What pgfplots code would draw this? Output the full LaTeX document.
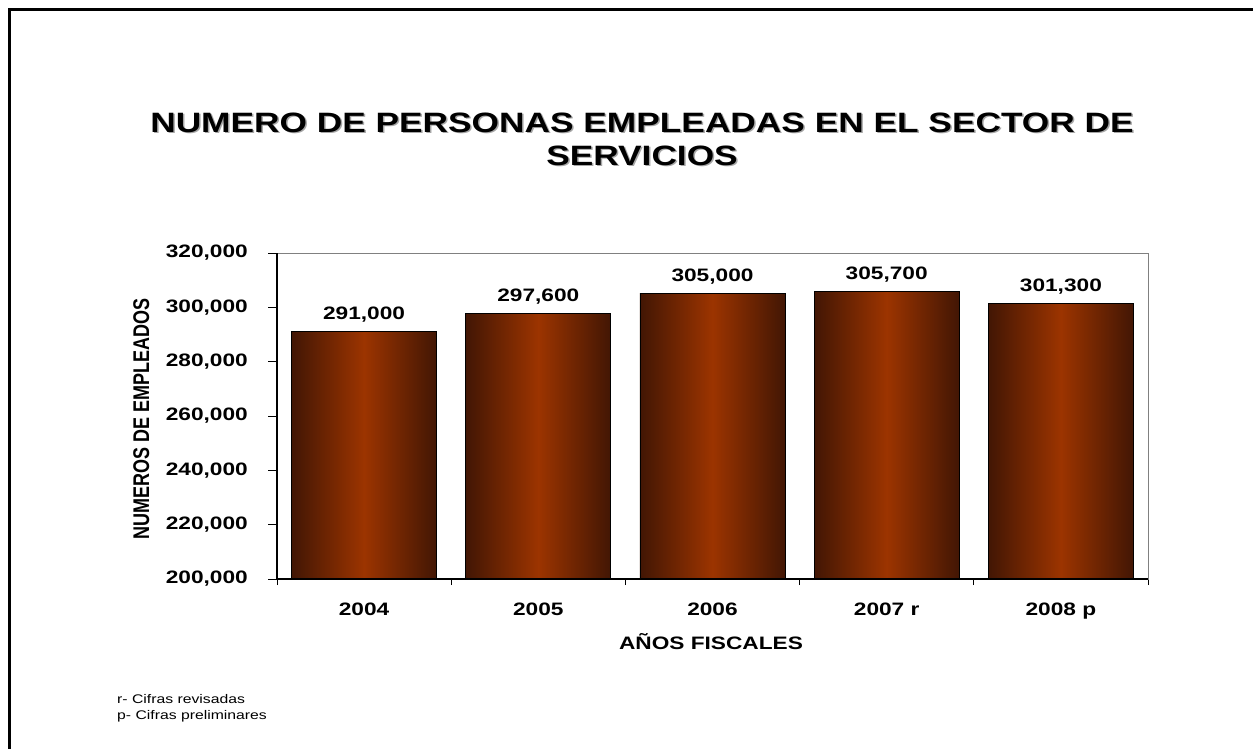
\documentclass[border=0pt]{standalone}
\usepackage{pgfplots}
\pgfplotsset{compat=1.18}
\usepackage{fontspec}
\setmainfont{Liberation Sans}[FakeStretch=1.26]
\newfontfamily\plainfont{Liberation Sans}
\definecolor{barEdge}{RGB}{66,22,4}
\definecolor{barMid}{RGB}{156,52,0}
\definecolor{frameGray}{RGB}{128,128,128}
\newcommand\lbl{\fontsize{18bp}{21bp}\selectfont\bfseries}

\begin{document}
\begin{tikzpicture}
\useasboundingbox (0,0) rectangle (1253bp,-749bp);
% slide frame (top and left only)
\draw[line width=3bp] (9.5bp,-749bp) -- (9.5bp,-9.5bp) -- (1253bp,-9.5bp);

% title with soft shadow
\foreach \dx/\dy/\c in {1.5/-1.5/black!35, 0/0/black} {
  \node[anchor=base, text=\c, font=\fontsize{28bp}{32bp}\selectfont\bfseries]
    at ([xshift=\dx bp, yshift=\dy bp]642bp,-132bp) {NUMERO DE PERSONAS EMPLEADAS EN EL SECTOR DE};
  \node[anchor=base, text=\c, font=\fontsize{28bp}{32bp}\selectfont\bfseries]
    at ([xshift=\dx bp, yshift=\dy bp]642bp,-165bp) {SERVICIOS};
}

\begin{axis}[
  name=ax,
  at={(277bp,-579bp)}, anchor=south west,
  scale only axis, width=871bp, height=326bp,
  xmin=-0.5, xmax=4.5, ymin=200000, ymax=320000,
  xtick={0,...,4},
  xticklabels={2004,2005,2006,2007 r,2008 p},
  minor xtick={-0.5,0.5,...,4.5},
  ytick={200000,220000,...,320000},
  scaled y ticks=false,
  tick pos=left,
  tick align=outside,
  major tick length=9bp, minor tick length=6bp,
  tick style={black, line width=0.8bp},
  every major x tick/.append style={draw=none},
  axis line style={frameGray, line width=0.8bp},
  ticklabel style={font=\lbl},
  xticklabel style={anchor=base, inner sep=0pt, yshift=-27bp},
  yticklabel style={anchor=east, inner sep=0pt, xshift=-20bp},
  /pgf/number format/fixed,
  /pgf/number format/1000 sep={,},
  /pgf/number format/assume math mode=true,
  bar width=0.833,
  nodes near coords,
  nodes near coords style={font=\lbl, anchor=south, yshift=6bp},
  shadedbar/.style={ybar, bar shift=0pt, draw=black, line width=0.9bp,
    left color=barEdge, right color=barEdge, middle color=barMid},
]
\addplot[shadedbar] coordinates {(0,291000)};
\addplot[shadedbar] coordinates {(1,297600)};
\addplot[shadedbar] coordinates {(2,305000)};
\addplot[shadedbar] coordinates {(3,305700)};
\addplot[shadedbar] coordinates {(4,301300)};
\end{axis}
% black left and bottom axis lines
\draw[black, line width=1.2bp] (ax.north west) -- (ax.south west) -- (ax.south east);

\node[anchor=base, font=\lbl] at (711bp,-649bp) {AÑOS FISCALES};
\node[anchor=base, rotate=90, font=\plainfont\fontsize{18bp}{21bp}\selectfont\bfseries]
  at (149bp,-419bp) {\scalebox{1}[1.26]{NUMEROS DE EMPLEADOS}};

\node[anchor=base west, inner sep=0pt, font=\fontsize{12.5bp}{15bp}\selectfont] at (117bp,-703bp) {r- Cifras revisadas};
\node[anchor=base west, inner sep=0pt, font=\fontsize{12.5bp}{15bp}\selectfont] at (117bp,-719bp) {p- Cifras preliminares};
\end{tikzpicture}
\end{document}
